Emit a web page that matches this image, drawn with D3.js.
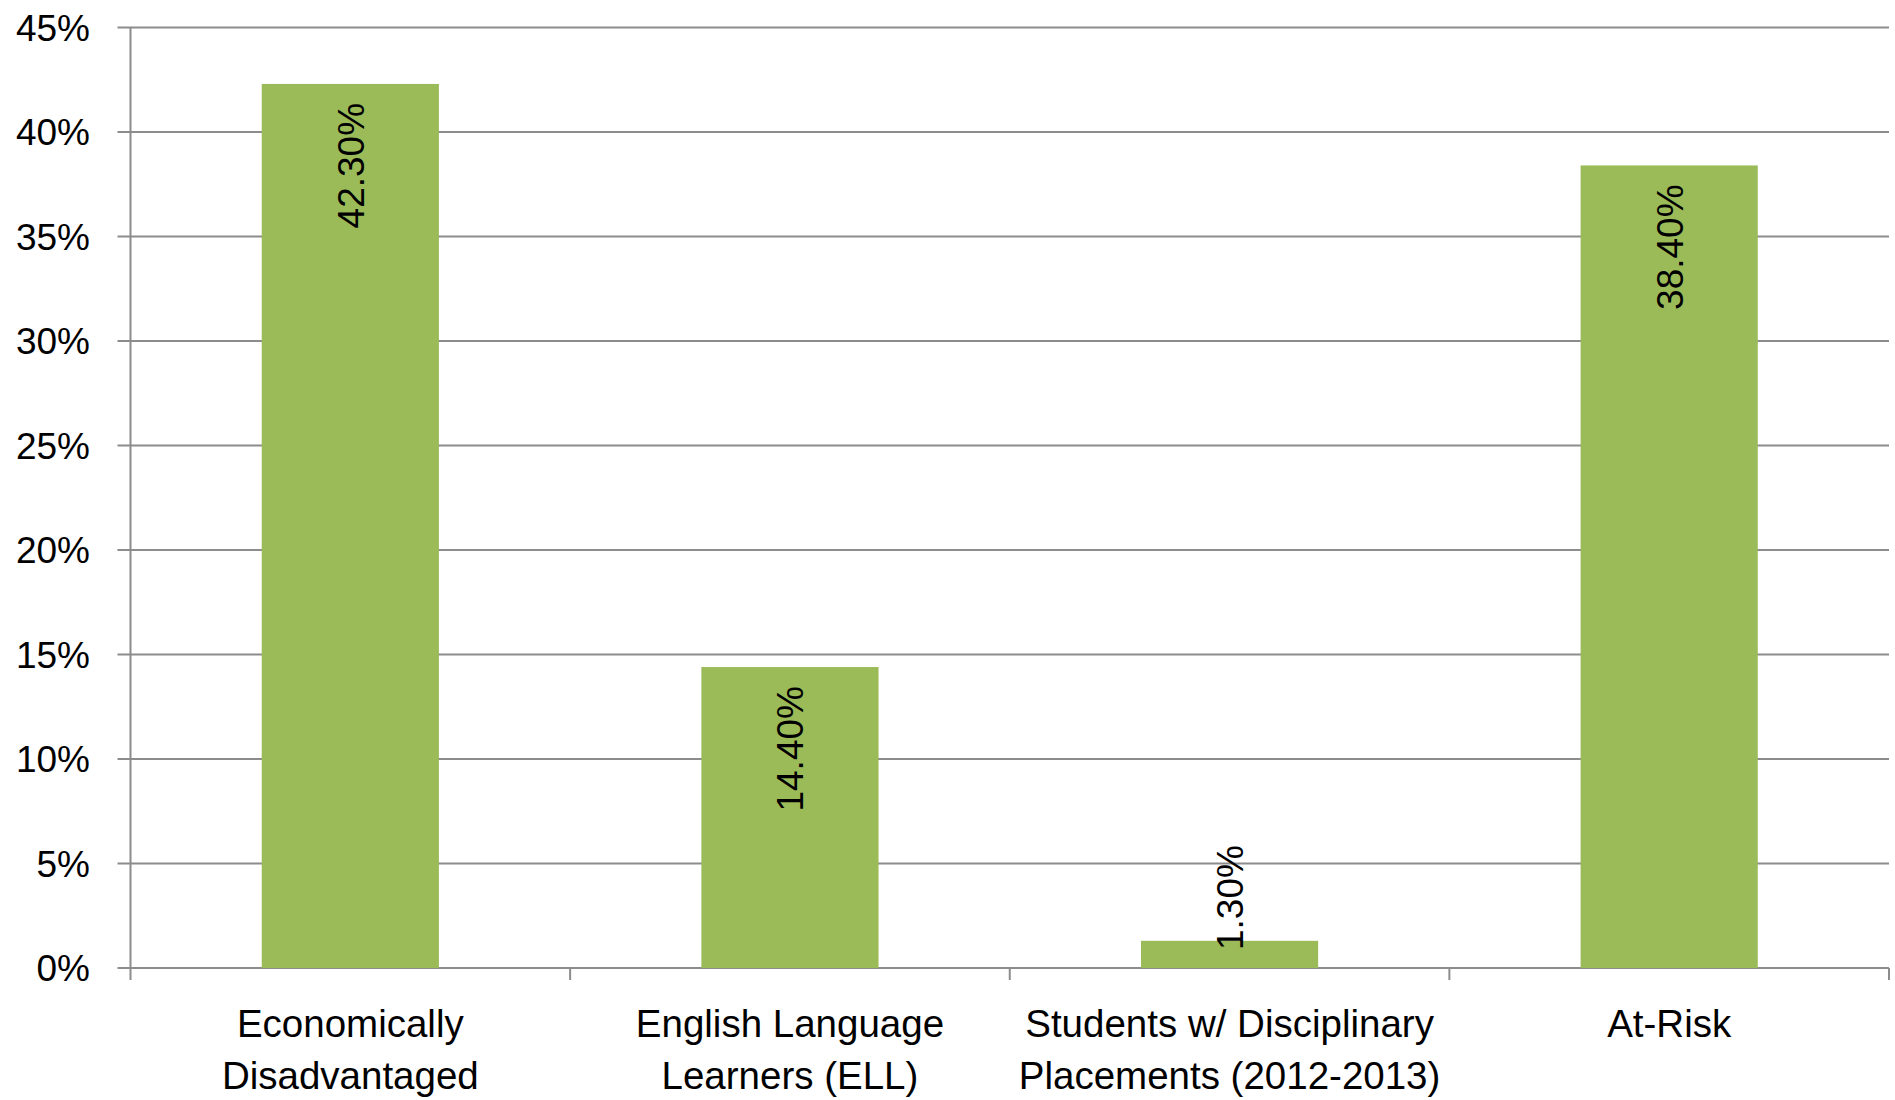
<!DOCTYPE html>
<html>
<head>
<meta charset="utf-8">
<script src="https://cdn.jsdelivr.net/npm/d3@7"></script>
<style>
  body { margin: 0; background: #fff; }
  svg { display: block; }
  text { font-family: "Liberation Sans", Arial, sans-serif; fill: #000; }
</style>
</head>
<body>
<svg id="chart" width="1895" height="1100"></svg>
<script>
const categories = [
  ["Economically", "Disadvantaged"],
  ["English Language", "Learners (ELL)"],
  ["Students w/ Disciplinary", "Placements (2012-2013)"],
  ["At-Risk"]
];
const values = [42.3, 14.4, 1.3, 38.4];
const valueLabels = ["42.30%", "14.40%", "1.30%", "38.40%"];
const yTicks = [0, 5, 10, 15, 20, 25, 30, 35, 40, 45];
const yTickLabels = ["0%", "5%", "10%", "15%", "20%", "25%", "30%", "35%", "40%", "45%"];

(function () {
const svg = d3.select("#chart");
const pL = 130.5, pR = 1889, pT = 27.5, pB = 968;
const gridColor = "#8c8c8c";

const x = d3.scaleBand().domain(d3.range(categories.length)).range([pL, pR]).padding(0);
const y = d3.scaleLinear().domain([0, 45]).range([pB, pT]);

// gridlines + left ticks
svg.append("g").selectAll("line").data(yTicks).join("line")
  .attr("x1", pL - 13).attr("x2", pR)
  .attr("y1", d => y(d)).attr("y2", d => y(d))
  .attr("stroke", gridColor).attr("stroke-width", 2);

// y tick labels
svg.append("g").selectAll("text").data(yTicks).join("text")
  .attr("x", 90).attr("y", d => y(d)).attr("dy", "0.36em")
  .attr("text-anchor", "end").attr("font-size", 37)
  .text((d, i) => yTickLabels[i]);

// bars
const barW = x.bandwidth() * 0.403;
svg.append("g").selectAll("rect").data(values).join("rect")
  .attr("x", (d, i) => x(i) + x.bandwidth() / 2 - barW / 2)
  .attr("width", barW)
  .attr("y", d => y(d))
  .attr("height", d => y(0) - y(d))
  .attr("fill", "#9BBB59");

// y axis line
svg.append("line").attr("x1", pL).attr("x2", pL).attr("y1", pT).attr("y2", pB + 12)
  .attr("stroke", gridColor).attr("stroke-width", 2);
// x axis tick marks at band boundaries
const bounds = d3.range(1, categories.length + 1).map(i => pL + i * x.step());
svg.append("g").selectAll("line").data(bounds).join("line")
  .attr("x1", d => d).attr("x2", d => d).attr("y1", pB).attr("y2", pB + 12)
  .attr("stroke", gridColor).attr("stroke-width", 2);

// value labels (rotated, inside end)
const lg = svg.append("g");
values.forEach((v, i) => {
  const cx = x(i) + x.bandwidth() / 2;
  const t = lg.append("text").attr("font-size", 37).text(valueLabels[i]);
  const L = t.node().getComputedTextLength();
  let yStart = y(v) + 19 + L;
  if (yStart > y(0) - 18) { yStart = y(0) - 18; }
  t.attr("transform", `translate(${cx},${yStart}) rotate(-90)`)
   .attr("x", 0).attr("y", 0).attr("dy", "0.36em").attr("text-anchor", "start");
});

// category labels
const cg = svg.append("g");
categories.forEach((lines, i) => {
  const cx = x(i) + x.bandwidth() / 2;
  const t = cg.append("text").attr("text-anchor", "middle").attr("font-size", 38.5);
  lines.forEach((ln, j) => {
    t.append("tspan").attr("x", cx).attr("y", 1037 + j * 52).text(ln);
  });
});
})();
</script>
</body>
</html>
